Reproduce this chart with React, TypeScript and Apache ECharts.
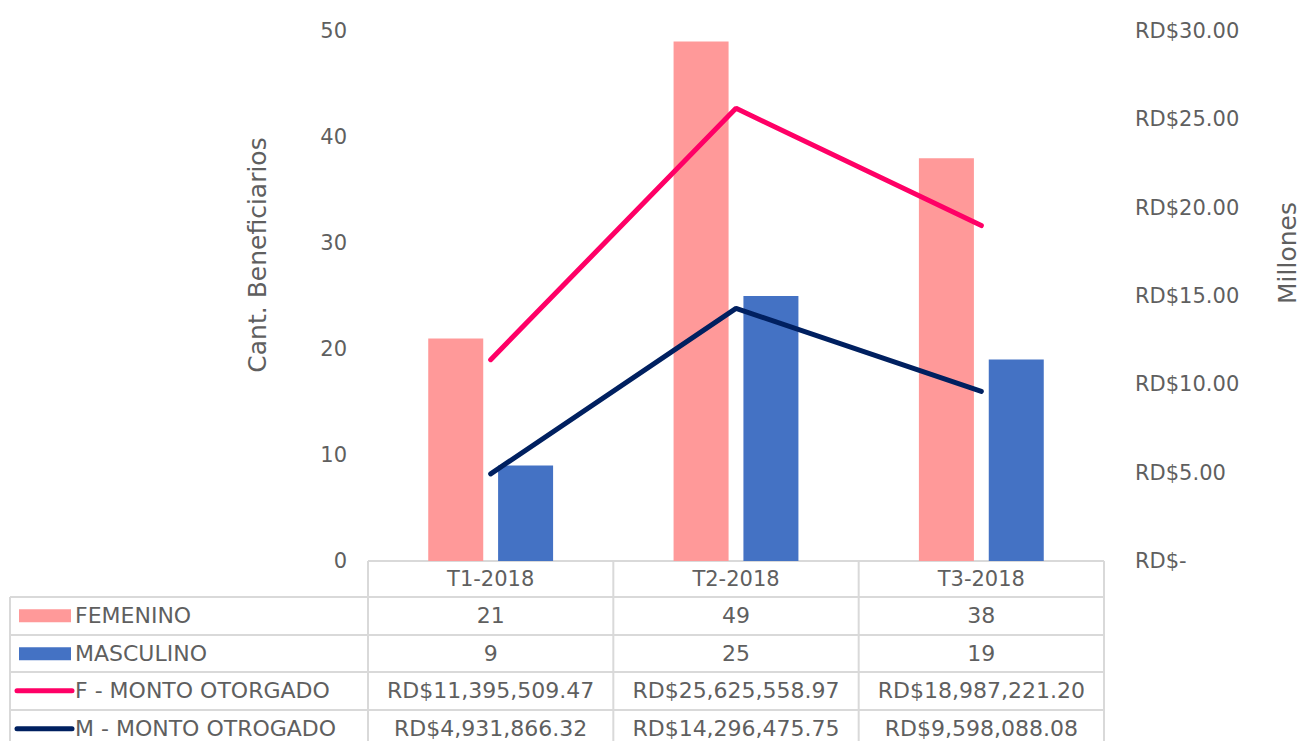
import React, { useEffect, useRef } from "react";
import * as echarts from "echarts";

const categories = ["T1-2018", "T2-2018", "T3-2018"];
const femenino = [21, 49, 38];
const masculino = [9, 25, 19];
const montoF = [11395509.47, 25625558.97, 18987221.2];
const montoM = [4931866.32, 14296475.75, 9598088.08];
const seriesNames = ["FEMENINO", "MASCULINO", "F - MONTO OTORGADO", "M - MONTO OTROGADO"];
const leftTicks = { min: 0, max: 50, interval: 10 };
const rightTicks = { min: 0, max: 30, interval: 5 };

const COLORS = ["#FF9999", "#4472C4", "#FF0066", "#002060"];
const TEXT = "#5f5f5f";
const LINE = "#d9d9d9";
const FONT = "DejaVu Sans";

const fmtMoney = (v: number) =>
  "RD$" + v.toLocaleString("en-US", { minimumFractionDigits: 2, maximumFractionDigits: 2 });

export default function App() {
  const ref = useRef<HTMLDivElement>(null);
  useEffect(() => {
    if (!ref.current) return;
    const chart = echarts.init(ref.current, undefined, { renderer: "svg" });
    const W = 1302;
    const gl = 368, gr = 1104, gt = 31, gb = 561;
    const colW = (gr - gl) / categories.length;
    const rowTops = [597, 635, 672, 710];
    const rowH = 37.5;
    const tableLeft = 10;

    const g: any[] = [];
    g.push({ type: "line", shape: { x1: gl, y1: gb, x2: gr, y2: gb }, style: { stroke: LINE, lineWidth: 2 } });
    rowTops.forEach((y) =>
      g.push({ type: "line", shape: { x1: tableLeft, y1: y, x2: gr, y2: y }, style: { stroke: LINE, lineWidth: 2 } })
    );
    for (let i = 0; i <= categories.length; i++) {
      const x = gl + i * colW;
      g.push({ type: "line", shape: { x1: x, y1: gb, x2: x, y2: 760 }, style: { stroke: LINE, lineWidth: 2 } });
    }
    g.push({ type: "line", shape: { x1: tableLeft, y1: rowTops[0], x2: tableLeft, y2: 760 }, style: { stroke: LINE, lineWidth: 2 } });

    const rows = [
      femenino.map(String),
      masculino.map(String),
      montoF.map(fmtMoney),
      montoM.map(fmtMoney),
    ];
    rows.forEach((vals, r) => {
      const cy = rowTops[r] + rowH / 2;
      if (r < 2) {
        g.push({ type: "rect", shape: { x: 19, y: cy - 6.5, width: 52, height: 13 }, style: { fill: COLORS[r] } });
      } else {
        g.push({
          type: "line",
          shape: { x1: 17, y1: cy, x2: 72, y2: cy },
          style: { stroke: COLORS[r], lineWidth: 5, lineCap: "round" },
        });
      }
      g.push({
        type: "text",
        x: 75,
        y: cy,
        style: { text: seriesNames[r], fill: TEXT, font: `22px "${FONT}"`, textAlign: "left", textVerticalAlign: "middle" },
      });
      vals.forEach((t, c) => {
        g.push({
          type: "text",
          x: gl + colW * (c + 0.5),
          y: cy,
          style: { text: t, fill: TEXT, font: `22px "${FONT}"`, textAlign: "center", textVerticalAlign: "middle" },
        });
      });
    });
    g.push({
      type: "text",
      x: 257,
      y: 255,
      rotation: Math.PI / 2,
      style: { text: "Cant. Beneficiarios", fill: TEXT, font: `25px "${FONT}"`, textAlign: "center", textVerticalAlign: "middle" },
    });
    g.push({
      type: "text",
      x: 1287,
      y: 253,
      rotation: Math.PI / 2,
      style: { text: "Millones", fill: TEXT, font: `25px "${FONT}"`, textAlign: "center", textVerticalAlign: "middle" },
    });

    chart.setOption({
      animation: false,
      backgroundColor: "#ffffff",
      textStyle: { fontFamily: FONT },
      grid: { left: gl, right: W - gr, top: gt, bottom: 741 - gb, containLabel: false },
      xAxis: {
        type: "category",
        data: categories,
        axisLine: { show: false },
        axisTick: { show: false },
        axisLabel: { color: TEXT, fontSize: 21, fontFamily: FONT, margin: 7 },
      },
      yAxis: [
        {
          type: "value",
          min: leftTicks.min,
          max: leftTicks.max,
          interval: leftTicks.interval,
          splitLine: { show: false },
          axisLine: { show: false },
          axisTick: { show: false },
          axisLabel: { color: TEXT, fontSize: 21, fontFamily: FONT, margin: 21 },
        },
        {
          type: "value",
          min: rightTicks.min,
          max: rightTicks.max,
          interval: rightTicks.interval,
          splitLine: { show: false },
          axisLine: { show: false },
          axisTick: { show: false },
          axisLabel: {
            color: TEXT,
            fontSize: 21,
            fontFamily: FONT,
            margin: 31,
            formatter: (v: number) => (v === 0 ? "RD$-" : "RD$" + v.toFixed(2)),
          },
        },
      ],
      series: [
        {
          name: seriesNames[0],
          type: "bar",
          data: femenino,
          barWidth: 55,
          barGap: "27%",
          itemStyle: { color: COLORS[0] },
        },
        {
          name: seriesNames[1],
          type: "bar",
          data: masculino,
          barWidth: 55,
          barGap: "27%",
          itemStyle: { color: COLORS[1] },
        },
        {
          name: seriesNames[2],
          type: "line",
          yAxisIndex: 1,
          data: montoF.map((v) => v / 1e6),
          symbol: "none",
          lineStyle: { color: COLORS[2], width: 5, cap: "round" },
          itemStyle: { color: COLORS[2] },
        },
        {
          name: seriesNames[3],
          type: "line",
          yAxisIndex: 1,
          data: montoM.map((v) => v / 1e6),
          symbol: "none",
          lineStyle: { color: COLORS[3], width: 5, cap: "round" },
          itemStyle: { color: COLORS[3] },
        },
      ],
      graphic: g,
    });
    return () => chart.dispose();
  }, []);
  return (
    <div
      ref={ref}
      style={{ position: "fixed", left: 0, top: 0, width: 1302, height: 741, background: "#fff" }}
    />
  );
}
